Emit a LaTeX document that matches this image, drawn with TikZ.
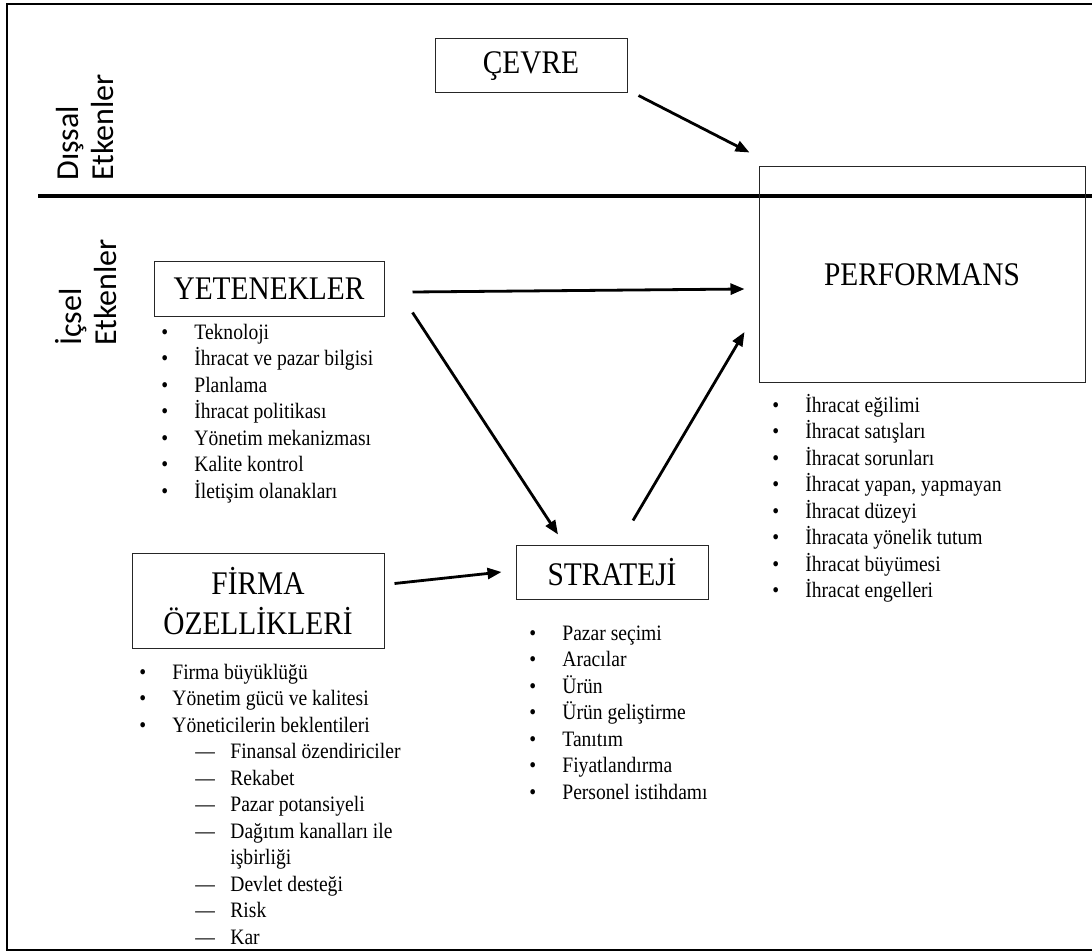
\documentclass[tikz,border=0pt]{standalone}
\usepackage{fontspec}
\setmainfont{Liberation Serif}[FakeStretch=0.89]
\newfontfamily\sidefont{Carlito}
\usetikzlibrary{arrows.meta}
\newcommand{\itm}[1]{\strut\makebox[16.5pt][l]{•}#1}
\newcommand{\subitm}[1]{\strut\hspace*{28pt}\makebox[17.5pt][l]{—}#1}

\begin{document}
\begin{tikzpicture}[x=0.5pt,y=-0.5pt,
  box/.style={draw=black!85, line width=0.5pt, font=\fontsize{16.5}{20}\selectfont, align=center, inner sep=0pt},
  lst/.style={anchor=north west, align=left, inner sep=0pt, font=\fontsize{11}{13.25}\selectfont},
  side/.style={rotate=90, anchor=west, align=left, inner sep=0pt, font=\sidefont\fontsize{16}{17.5}\selectfont},
  arr/.style={line width=1.4pt, -{Triangle[length=7pt,width=5.5pt]}}]
\useasboundingbox (0,0) rectangle (1092,952);
% frame and divider
\draw[line width=0.8pt] (1092,4) -- (7,4) -- (7,950) -- (1092,950);
\draw[line width=1.8pt] (38,196) -- (1092,196);
\node (dis) [side] at (85.5,181) {Dışsal\\Etkenler};
\node (ic) [side] at (86,346) {İçsel\\Etkenler};
% boxes
\node (cevre) [box, minimum width=96pt, minimum height=27pt] at (531,66) {ÇEVRE};
\node (perf) [box, minimum width=163pt, minimum height=107.5pt] at (922,274.5) {PERFORMANS};
\node (yet) [box, minimum width=115pt, minimum height=27pt] at (269,289) {YETENEKLER};
\node (firma) [box, minimum width=126pt, minimum height=47.5pt] at (258,601) {FİRMA\\ÖZELLİKLERİ};
\node (strat) [box, minimum width=96pt, minimum height=27pt] at (612,572) {STRATEJİ};
% lists (top = first baseline - strut height)
\node (yetlst) [lst] at (161,320.5) {\itm{Teknoloji}\\ \itm{İhracat ve pazar bilgisi}\\ \itm{Planlama}\\
  \itm{İhracat politikası}\\ \itm{Yönetim mekanizması}\\ \itm{Kalite kontrol}\\ \itm{İletişim olanakları}};
\node (perflst) [lst] at (772,393.5) {\itm{İhracat eğilimi}\\ \itm{İhracat satışları}\\ \itm{İhracat sorunları}\\
  \itm{İhracat yapan, yapmayan}\\ \itm{İhracat düzeyi}\\ \itm{İhracata yönelik tutum}\\ \itm{İhracat büyümesi}\\
  \itm{İhracat engelleri}};
\node (stratlst) [lst] at (529,621.5) {\itm{Pazar seçimi}\\ \itm{Aracılar}\\ \itm{Ürün}\\ \itm{Ürün geliştirme}\\
  \itm{Tanıtım}\\ \itm{Fiyatlandırma}\\ \itm{Personel istihdamı}};
\node (firmalst) [lst] at (139,660.5) {\itm{Firma büyüklüğü}\\ \itm{Yönetim gücü ve kalitesi}\\ \itm{Yöneticilerin beklentileri}\\
  \subitm{Finansal özendiriciler}\\ \subitm{Rekabet}\\ \subitm{Pazar potansiyeli}\\ \subitm{Dağıtım kanalları ile}\\
  \strut\hspace*{45.5pt}işbirliği\\ \subitm{Devlet desteği}\\ \subitm{Risk}\\ \subitm{Kar}};
% arrows
\draw[arr] ([shift={(11,2)}]cevre.south east) -- ([shift={(-9,-14)}]perf.north west);
\draw[arr] ([shift={(28,3)}]yet.east) -- ([shift={(-14,14.5)}]perf.west);
\draw[arr] ([shift={(28,-4)}]yet.south east) -- ([shift={(-54,-10)}]strat.north);
\draw[arr] ([shift={(10,-17.5)}]firma.east) -- ([shift={(-14,0)}]strat.west);
\draw[arr] ([shift={(21,-24)}]strat.north) -- ([shift={(-14,57.5)}]perf.west);
\end{tikzpicture}
\end{document}
